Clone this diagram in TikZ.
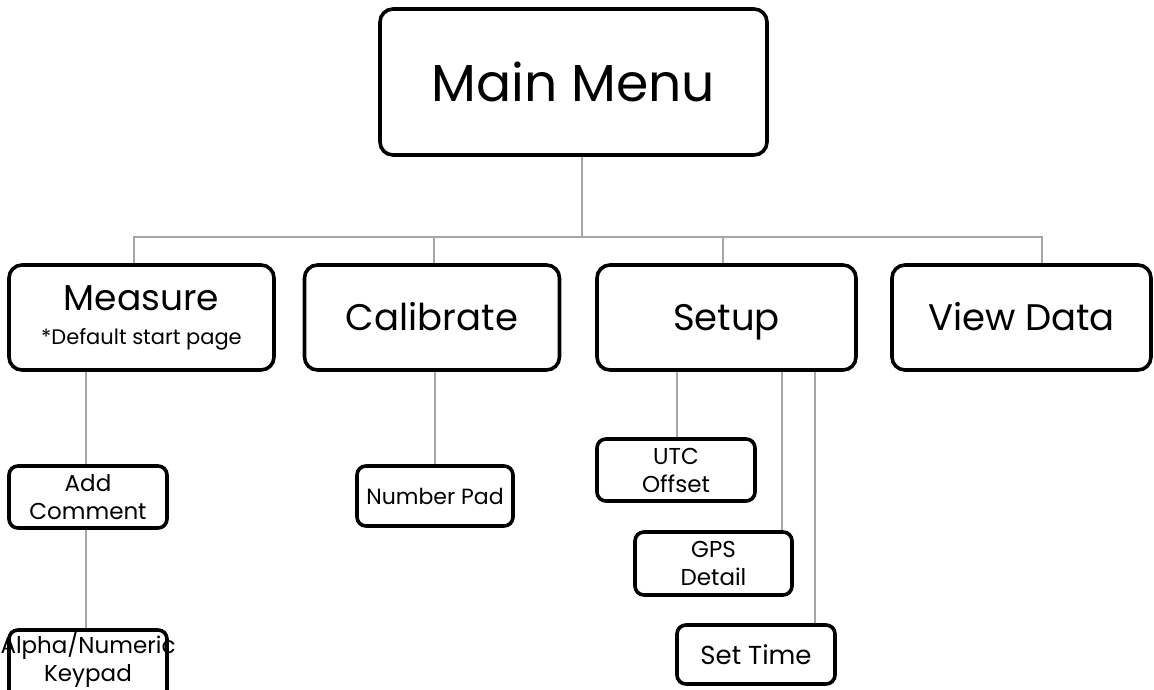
\documentclass[tikz,border=0pt]{standalone}
\usepackage{fontspec}
\setmainfont{Poppins}
\begin{document}
\begin{tikzpicture}[x=1pt,y=-1pt,
  big/.style={draw=black,line width=3.6pt,rounded corners=13pt,inner sep=0pt,align=center,fill=white},
  small/.style={draw=black,line width=3.6pt,rounded corners=9pt,inner sep=0pt,align=center,fill=white},
  conn/.style={draw=black!35,line width=1.5pt},
  fmain/.style={font=\fontsize{52}{60}\selectfont},
  fmid/.style={font=\fontsize{37}{40}\selectfont,text height=30pt,text depth=4pt},
  fsmall/.style={font=\fontsize{23}{28}\selectfont}]
\useasboundingbox (0,0) rectangle (1154,689);
\fill[white] (0,0) rectangle (1154,689);
% top
\node[big,fmain,minimum width=387pt,minimum height=146pt] (main) at (573.5,82) {Main Menu};
% level 2
\node[big,font=\fontsize{21}{34}\selectfont,minimum width=265pt,minimum height=105pt] (measure) at (141.5,317.5)
  {{\fontsize{36}{40}\selectfont Measure}\\*Default start page};
\node[big,fmid,minimum width=255pt,minimum height=105pt] (calibrate) at (432,317.5) {Calibrate};
\node[big,fmid,minimum width=259pt,minimum height=105pt] (setup) at (726.5,317.5) {Setup};
\node[big,fmid,minimum width=259pt,minimum height=105pt] (viewdata) at (1021.5,317.5) {View Data};
% level 3
\node[small,fsmall,minimum width=158pt,minimum height=62pt] (addcomment) at (88,497) {Add\\Comment};
\node[small,fsmall,minimum width=158pt,minimum height=74pt,text depth=20pt] (alpha) at (88,667)
  {\makebox[140pt]{Alpha/Numeric}\\Keypad};
\node[small,font=\fontsize{22}{26}\selectfont,minimum width=156pt,minimum height=60pt] (numberpad) at (435,496) {Number Pad};
\node[small,fsmall,minimum width=158pt,minimum height=62pt] (utc) at (676,470) {UTC\\Offset};
\node[small,fsmall,minimum width=157pt,minimum height=63pt] (gps) at (713.5,563.5) {GPS\\Detail};
\node[small,font=\fontsize{26}{30}\selectfont,minimum width=158pt,minimum height=59pt] (settime) at (756,654.5) {Set Time};
% connectors
\coordinate (busL) at (134,237);
\coordinate (busR) at (1042,237);
\coordinate (busM) at (582,237);
\draw[conn] (582,0 |- main.south) -- (busM);
\draw[conn] (134,0 |- measure.north) -- (busL) -- (busR) -- (1042,0 |- viewdata.north);
\draw[conn] (434,237) -- (434,0 |- calibrate.north);
\draw[conn] (723,237) -- (723,0 |- setup.north);
\draw[conn] (86,0 |- measure.south) -- (86,0 |- addcomment.north);
\draw[conn] (86,0 |- addcomment.south) -- (86,0 |- alpha.north);
\draw[conn] (numberpad.north |- calibrate.south) -- (numberpad.north);
\draw[conn] (677,0 |- setup.south) -- (677,0 |- utc.north);
\draw[conn] (782,0 |- setup.south) -- (782,0 |- gps.north);
\draw[conn] (815,0 |- setup.south) -- (815,0 |- settime.north);
\end{tikzpicture}
\end{document}
